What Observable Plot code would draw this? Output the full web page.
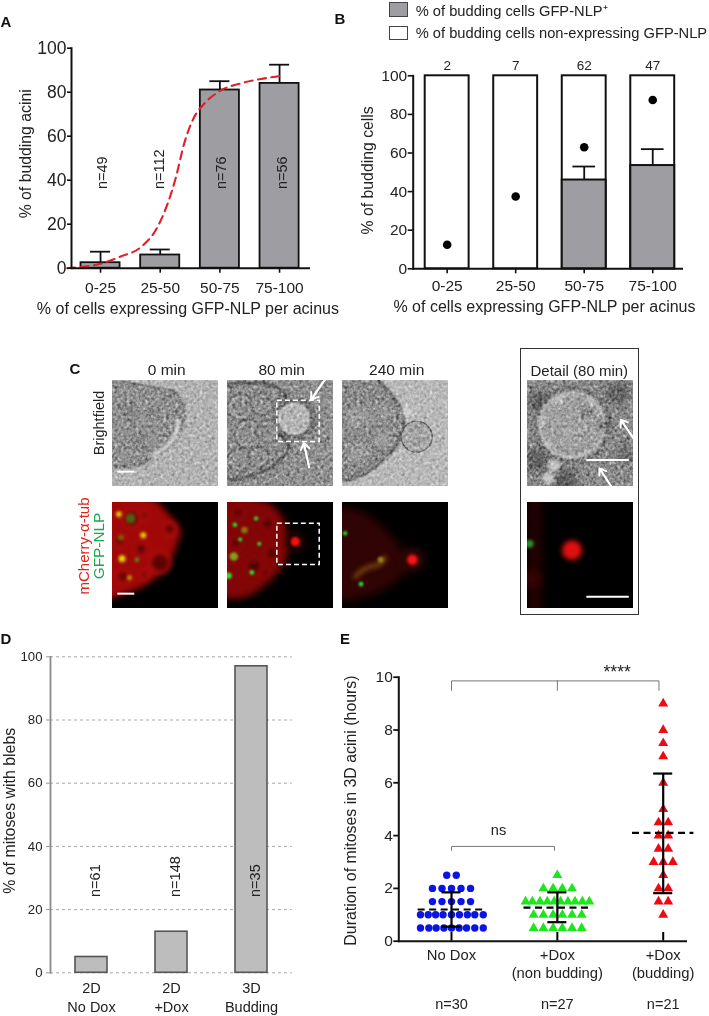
<!DOCTYPE html>
<html><head><meta charset="utf-8">
<script src="https://cdn.jsdelivr.net/npm/d3@7"></script>
<script src="https://cdn.jsdelivr.net/npm/@observablehq/plot@0.6"></script>
<style>
html,body{margin:0;padding:0;background:#fff}
#page{position:relative;width:709px;height:1016px;overflow:hidden;font-family:"Liberation Sans",Arial,sans-serif;color:#222}
#page>svg{position:absolute}
.t{position:absolute;white-space:nowrap;transform:translate(-50%,-50%)}
.sw{position:absolute;box-sizing:border-box;border:1.5px solid #444}
</style></head><body>
<svg width="0" height="0" style="position:absolute"><filter id="grain" x="0" y="0" width="100%" height="100%" color-interpolation-filters="sRGB"><feTurbulence type="fractalNoise" baseFrequency="0.33" numOctaves="2" seed="7" result="n"/><feColorMatrix in="n" type="matrix" values="0.42 0.42 0.42 0 -0.13 0.42 0.42 0.42 0 -0.13 0.42 0.42 0.42 0 -0.13 0 0 0 0 1" result="g"/><feBlend in="g" in2="SourceGraphic" mode="overlay"/></filter></svg>
<div id="page"></div>
<script>
const page = document.getElementById("page");
const FONT = '"Liberation Sans", Arial, sans-serif';
const INK = "#222";

// ---------- Panel A ----------
const binLabels = ["0-25","25-50","50-75","75-100"];
const binStart = [0,25,50,75];
const binEnd = [25,50,75,100];
const binCenter = [12.5,37.5,62.5,87.5];
const aBudding = [2.5,6,81,84];
const aUpper = [7.5,8.5,85,92.5];
const aN = ["n=49","n=112","n=76","n=56"];
const aNDx = [0.7,-0.4,0.75,1.1];
const aCurveX = [-1.5,6,12.5,20.9,29.3,36.3,40.5,44,47.5,51.7,55.9,62.9,71.3,79.7,87.4];
const aCurveY = [0,0.8,2,5.3,9.5,18.6,29,41,56.5,68.6,74.7,80.8,84,86,87.3];

// ---------- Panel B ----------
const bPositive = [0,0,46,53.5];
const bUpper = [null,null,53,62];
const bExpected = [12.5,37.5,63,87.5];
const bCounts = ["2","7","62","47"];

// ---------- Panel D ----------
const dCats = ["2D\nNo Dox","2D\n+Dox","3D\nBudding"];
const dValues = [5,13,97];
const dN = ["n=61","n=148","n=35"];

// ---------- Panel E ----------
const eCatPos = [0,1,2];
const eCats = ["No Dox","+Dox\n(non budding)","+Dox\n(budding)"];
const eN = ["n=30","n=27","n=21"];
const eMean = [1.2,1.27,4.1];
const eSdLow = [0.55,0.72,1.82];
const eSdHigh = [1.85,1.85,6.35];
const noDoxHours = [0.5,0.5,0.5,0.5,0.5,0.5,0.5,0.5,0.5,1,1,1,1,1,1,1,1,1,1.5,1.5,1.5,1.5,1.5,2,2,2,2,2,2.5,2.5];
const noDoxOffset = [-.293,-.214,-.145,-.072,0,.072,.142,.22,.3,-.293,-.22,-.15,-.08,0,.075,.15,.22,.3,-.18,-.09,0,.09,.18,-.18,-.09,0,.09,.18,-.045,.045];
const budlessHours = [0.5,0.5,0.5,0.5,0.5,0.5,1,1,1,1,1,1,1.5,1.5,1.5,1.5,1.5,1.5,1.5,1.5,1.5,1.5,2,2,2,2,2.5];
const budlessOffset = [-.224,-.132,-.04,.047,.139,.23,-.224,-.132,-.04,.047,.139,.23,-.3,-.236,-.164,-.095,-.03,.03,.1,.167,.236,.302,-.132,-.04,.047,.139,0];
const buddingHours = [1,1.5,1.5,2,2,2.5,3,3,3,3.5,3.5,4,4,4.5,4.5,5,6,7,7.5,8,9];
const buddingOffset = [0,-.044,.047,-.044,.047,0,-.091,0,.091,-.044,.047,-.044,.047,-.044,.047,0,0,0,0,0,0];
const bracketTopX = [0,0,1.96,1.96];
const bracketTopY = [9.5,9.86,9.86,9.5];
const bracketMidX = [1,1];
const bracketMidY = [9.5,9.86];
const bracketNsX = [0,0,.973,.973];
const bracketNsY = [3.44,3.59,3.59,3.44];

// ---------- Panel C: picture content (x, y in % of the picture; r in px) ----------
const outline0 = [[-5,3],[25,4],[45,8],[58,10],[66,20],[68,28],[66,42],[60,55],[48,67],[38,72],[32,78],[22,80],[12,82],[-5,78]];
const rings0 = [[15,30,13],[40,30,10],[25,58,13],[50,46,8],[8,62,7],[33,13,6]];
const shine0 = [[62,38],[59,52],[48,65],[38,70]];
const outline80 = [[-5,8],[20,2],[40,4],[55,14],[52,30],[50,50],[58,62],[50,75],[35,85],[15,92],[-5,90]];
const rings80 = [[12,25,11],[32,22,9],[20,50,12],[38,48,9],[10,75,9],[30,72,8],[42,12,5]];
const outline240 = [[-5,-3],[30,-3],[45,12],[57,30],[58,40],[52,60],[38,75],[15,91],[-5,92]];
const rings240 = [[15,35,12],[38,30,8],[38,55,9],[15,68,10]];
const budTexture240 = [[64,48,1.8],[72,46,1.8],[76,56,1.8],[68,60,1.8],[73,52,1.4]];
const fluoOutline0 = [[-5,-3],[38,-3],[52,10],[64,26],[60,42],[51,61],[29,79],[12,86],[0,90],[-5,90]];
const fluoHoles0 = [[45,57,10],[54,25,6],[18,15,8],[27,44,6],[7,36,5],[30,12,4],[30,68,4],[10,70,6]];
const fluoSpots0 = [[6,11,2.8,"#e8d000"],[29,31,3,"#f0d000"],[9,53,3.4,"#e8e000"],[16,71,2.4,"#c0a800"],[23,54,2.2,"#50a020"],[17,15,5,"#506010"],[8,33,3,"#806000"]];
const fluoOutline80 = [[-5,-3],[30,-3],[48,8],[58,36],[55,55],[42,72],[18,89],[-5,88]];
const fluoHoles80 = [[38,20,6],[42,48,6],[10,10,5],[25,60,7],[35,66,4],[8,38,5]];
const fluoSpots80 = [[7,21,2.2,"#30e030"],[27,15,2.2,"#30d030"],[12,35,2,"#30e030"],[30,39,2,"#30e030"],[6,51,4.2,"#80a018"],[23,66,2.4,"#30e030"],[1,69,3.2,"#30e030"],[16,26,3.4,"#907008"]];
const budHalo80 = [[64,37,10,"#260303"]];
const budCore80 = [[64,37,4.6,"#f01010"]];
const fluoOutline240 = [[-5,6],[20,10],[40,25],[55,42],[62,60],[50,75],[25,88],[-5,90]];
const fluoStreak240 = [[12,70],[22,62],[35,58],[40,52]];
const fluoSpots240 = [[17.5,77,2.4,"#30e030"],[2.5,29,2.2,"#30d030"],[36,54,3,"#908018"]];
const budHalo240 = [[66,54,12,"#300505"]];
const budCore240 = [[66,54,5.2,"#f81414"]];
const detailBlotches = [[12,20,11],[8,75,12],[35,95,13],[85,12,11],[72,42,6],[55,30,5],[92,70,8]];
const detailGlints = [[30,18,4],[15,38,3],[20,60,3],[60,20,3],[38,48,2.5],[25,80,6],[20,92,6]];
const detailHalo = [[4,72,9,"#3a0303"],[2,20,8,"#1c0202"]];
const detailCore = [[42,45,10,"#e01010"]];
const detailGreen = [[2,39,4,"#289028"]];
const detailStripe = [[7,-5],[7,105]];

// ---------- helpers ----------
function add(svg, left, top){ svg.style.left = left+"px"; svg.style.top = top+"px"; page.appendChild(svg); return svg; }
function label(text, x, y, o={}){
  const d = document.createElement("div"); d.className="t"; d.textContent=text;
  d.style.left=x+"px"; d.style.top=y+"px";
  d.style.fontSize=(o.size||15)+"px";
  if(o.weight) d.style.fontWeight=o.weight;
  if(o.color) d.style.color=o.color;
  if(o.rotate) d.style.transform=`translate(-50%,-50%) rotate(${o.rotate}deg)`;
  page.appendChild(d);
}
const baseStyle = {fontFamily:FONT, background:"transparent", overflow:"visible"};

// ---------- A ----------
const aRows = binLabels.map((b,i)=>({b,x1:binStart[i],x2:binEnd[i],c:binCenter[i],v:aBudding[i],u:aUpper[i],n:aN[i],dx:aNDx[i]}));
const aCurve = aCurveX.map((x,i)=>({x,y:aCurveY[i]}));
add(Plot.plot({
  width:345,height:330,marginLeft:71,marginRight:35,marginTop:47.7,marginBottom:62.3,
  style:baseStyle,
  x:{domain:[0,100],range:[70.2,308.9]},
  y:{domain:[0,100]},
  marks:[
    Plot.ruleX(aRows,{x:"c",y1:"v",y2:"u",stroke:"#111",strokeWidth:1.8}),
    Plot.ruleY(aRows,{x1:d=>d.c-4.2,x2:d=>d.c+4.2,y:"u",stroke:"#111",strokeWidth:1.8}),
    Plot.rectY(aRows,{x1:"x1",x2:"x2",y1:0,y2:"v",insetLeft:10.3,insetRight:10.3,fill:"#9d9da2",stroke:"#111",strokeWidth:1.8}),
    Plot.text(aRows,{x:d=>d.c+d.dx,y:36,text:"n",rotate:-90,textAnchor:"start",fontSize:14.5,fill:INK}),
    Plot.line(aCurve,{x:"x",y:"y",curve:"monotone-x",stroke:"#e11f26",strokeWidth:2.1,strokeDasharray:"8,5.5"}),
    Plot.frame({anchor:"left",stroke:"#111",strokeWidth:2}),
    Plot.ruleY([0],{stroke:"#111",strokeWidth:2}),
    Plot.axisY({ticks:[0,20,40,60,80,100],label:null,tickSize:4,tickPadding:1,fontSize:17.5,color:INK,stroke:"#111",strokeWidth:1.6}),
    Plot.axisX({ticks:binCenter,tickFormat:(d,i)=>binLabels[i],label:null,tickSize:5,tickPadding:8.5,fontSize:15.5,color:INK,stroke:"#111",strokeWidth:1.6}),
    Plot.text(["% of budding acini"],{x:-18.6,y:52,rotate:-90,fontSize:15.8,fill:INK}),
    Plot.text(["% of cells expressing GFP-NLP per acinus"],{x:49.1,y:-18.3,fontSize:16,fill:INK})
  ]
}),0,0);

// ---------- B ----------
const bRows = binLabels.map((b,i)=>({x1:binStart[i],x2:binEnd[i],c:binCenter[i],v:bPositive[i],u:bUpper[i],e:bExpected[i],n:bCounts[i]}));
const bErr = bRows.filter(d=>d.u!=null);
add(Plot.plot({
  width:364,height:288,marginLeft:67.7,marginRight:26,marginTop:33.3,marginBottom:61.7,
  style:baseStyle,
  x:{domain:[0,100],range:[67.4,341.5]},
  y:{domain:[0,100]},
  marks:[
    Plot.rectY(bRows,{x1:"x1",x2:"x2",y1:0,y2:100,insetLeft:12.3,insetRight:12.3,fill:"#fff",stroke:"#111",strokeWidth:2}),
    Plot.rectY(bRows.filter(d=>d.v>0),{x1:"x1",x2:"x2",y1:0,y2:"v",insetLeft:12.3,insetRight:12.3,fill:"#9d9da2",stroke:"#111",strokeWidth:2}),
    Plot.ruleX(bErr,{x:"c",y1:"v",y2:"u",stroke:"#111",strokeWidth:1.8}),
    Plot.ruleY(bErr,{x1:d=>d.c-4.14,x2:d=>d.c+4.14,y:"u",stroke:"#111",strokeWidth:1.8}),
    Plot.dot(bRows,{x:"c",y:"e",r:4.3,fill:"#000"}),
    Plot.text(bRows,{x:"c",y:105.3,text:"n",fontSize:13.5,fill:INK}),
    Plot.frame({anchor:"left",stroke:"#111",strokeWidth:2}),
    Plot.ruleY([0],{stroke:"#111",strokeWidth:2}),
    Plot.axisY({ticks:[0,20,40,60,80,100],label:null,tickSize:5,tickPadding:1,fontSize:15.5,color:INK,stroke:"#111",strokeWidth:1.6}),
    Plot.axisX({ticks:binCenter,tickFormat:(d,i)=>binLabels[i],label:null,tickSize:5,tickPadding:6,fontSize:15.5,color:INK,stroke:"#111",strokeWidth:1.6}),
    Plot.text(["% of budding cells"],{x:-16.3,y:51,rotate:-90,fontSize:15.8,fill:INK}),
    Plot.text(["% of cells expressing GFP-NLP per acinus"],{x:48,y:-19.5,fontSize:16,fill:INK})
  ]
}),345,42);

// legend of B
for (const [top,bg,txt,ty] of [[2,"#9d9da2","% of budding cells GFP-NLP⁺",10],[25.7,"#fff","% of budding cells non-expressing GFP-NLP",33]]) {
  const s=document.createElement("div"); s.className="sw";
  s.style.cssText=`left:389.3px;top:${top}px;width:19px;height:14.7px;background:${bg}`;
  page.appendChild(s);
  const t=document.createElement("div"); t.className="t"; t.textContent=txt;
  t.style.cssText=`left:415.7px;top:${ty}px;font-size:14.7px;transform:translateY(-50%)`;
  page.appendChild(t);
}

// ---------- C ----------
const PIC = 106;
const xy = {x:d=>d[0],y:d=>d[1]};
function pic(left, top, bg, grain, marks){
  const svg = Plot.plot({
    width:PIC,height:PIC,margin:0,
    style:{background:bg,fontFamily:FONT,filter:grain?"url(#grain)":"none",isolation:"isolate"},
    x:{domain:[0,100],axis:null},y:{domain:[0,100],reverse:true,axis:null},
    r:{type:"identity"},color:{type:"identity"},
    marks
  });
  return add(svg,left,top);
}
const poly = (pts,o)=>Plot.line(pts,{...xy,curve:"catmull-rom-closed",...o});
const open = (pts,o)=>Plot.line(pts,{...xy,curve:"catmull-rom",...o});
const rings = (pts,o)=>Plot.dot(pts,{...xy,r:d=>d[2],...o});
const glow = (pts,blur,o={})=>Plot.dot(pts,{...xy,r:d=>d[2],fill:d=>d[3],stroke:"none",imageFilter:`blur(${blur}px)`,mixBlendMode:"screen",...o});
const bar = (x1,x2,y)=>Plot.ruleY([y],{x1,x2,stroke:"#fff",strokeWidth:2});
const dashBox = (x1,x2,y1,y2)=>Plot.rect([0],{x1,x2,y1,y2,fill:"none",stroke:"#fff",strokeWidth:1.5,strokeDasharray:"5,3"});
const whiteArrow = (x1,y1,x2,y2)=>[6.5,3.5].map(h=>Plot.arrow([0],{x1,y1,x2,y2,stroke:"#fff",strokeWidth:1.8,headLength:h,headAngle:70,bend:0}));

// top row
pic(112.3,380,"#b2b2b2",true,[
  poly(outline0,{fill:"#8f8f8f",stroke:"#666",strokeWidth:1.6,imageFilter:"blur(1.2px)"}),
  rings(rings0,{fill:"#878787",stroke:"#a2a2a2",strokeWidth:1.6,imageFilter:"blur(2px)"}),
  open(shine0,{stroke:"#d8d8d8",strokeWidth:4,imageFilter:"blur(1.8px)"}),
  bar(5,21,86)
]);
pic(227.3,380,"#8f8f8f",true,[
  poly(outline80,{fill:"#8d8d8d",stroke:"#444",strokeWidth:2.2,imageFilter:"blur(1.2px)"}),
  rings(rings80,{fill:"none",stroke:"#b8b8b8",strokeWidth:1.6,imageFilter:"blur(1.2px)"}),
  rings(rings80,{r:d=>d[2]+2,fill:"none",stroke:"#5c5c5c",strokeWidth:1.3,imageFilter:"blur(1.2px)"}),
  rings([[64,36,20]],{fill:"#5c5c5c",imageFilter:"blur(3px)"}),
  rings([[63,36,15.5]],{fill:"#b4b4b4",stroke:"#d8d8d8",strokeWidth:1.5,imageFilter:"blur(1px)"}),
  dashBox(47,87,19,58),
  whiteArrow(92,-1,79,18),
  whiteArrow(77,82,72,59)
]);
pic(342.3,380,"#b8b8b8",true,[
  poly(outline240,{fill:"#8a8a8a",stroke:"#505050",strokeWidth:2,imageFilter:"blur(1.2px)"}),
  rings(rings240,{fill:"#9c9c9c",stroke:"none",imageFilter:"blur(3.5px)"}),
  rings([[60,30,4]],{fill:"#e4e4e4",imageFilter:"blur(2px)"}),
  rings([[70,53,15.5]],{fill:"#a8a8a8",stroke:"#6c6c6c",strokeWidth:1.3,imageFilter:"blur(.6px)"}),
  rings(budTexture240,{fill:"#808080",imageFilter:"blur(.8px)"})
]);
// bottom row
pic(112.3,502,"#000",false,[
  poly(fluoOutline0,{fill:"#a00808",stroke:"none",imageFilter:"blur(3px)"}),
  rings(fluoHoles0,{fill:"#5a0202",stroke:"#d81414",strokeWidth:1.8,imageFilter:"blur(2.4px)"}),
  glow(fluoSpots0,1.4),
  bar(5,21,86)
]);
pic(227.3,502,"#000",false,[
  poly(fluoOutline80,{fill:"#820606",stroke:"none",imageFilter:"blur(3.5px)"}),
  rings(fluoHoles80,{fill:"#4a0202",stroke:"#b00a0a",strokeWidth:1.8,imageFilter:"blur(2.4px)"}),
  glow(fluoSpots80,.9),
  glow(budHalo80,3),
  glow(budCore80,1.3),
  dashBox(47,87,20,59)
]);
pic(342.3,502,"#000",false,[
  poly(fluoOutline240,{fill:"#300404",stroke:"none",imageFilter:"blur(4px)"}),
  open(fluoStreak240,{stroke:"#804c0c",strokeWidth:4,imageFilter:"blur(2.5px)",mixBlendMode:"screen"}),
  glow(fluoSpots240,1),
  glow(budHalo240,3),
  glow(budCore240,1.5)
]);
// detail
pic(527,380,"#8a8a8a",true,[
  rings(detailBlotches,{fill:"#5e5e5e",imageFilter:"blur(4px)"}),
  rings([[42,42,36]],{fill:"#525252",imageFilter:"blur(3px)"}),
  rings([[42,42,33]],{fill:"#a0a0a0",stroke:"#d0d0d0",strokeWidth:2.4,imageFilter:"blur(1.4px)"}),
  rings(detailGlints,{fill:"#c4c4c4",imageFilter:"blur(1.8px)"}),
  rings(detailBlotches.slice(4,6),{fill:"#747474",imageFilter:"blur(3px)"}),
  bar(56,96,75),
  whiteArrow(101,56,88,37),
  whiteArrow(79,100,68,83)
]);
pic(527,502,"#000",false,[
  open(detailStripe,{stroke:"#240202",strokeWidth:14,imageFilter:"blur(4px)"}),
  glow(detailHalo,4),
  glow(detailCore,2.4),
  glow(detailGreen,1.6),
  bar(56,96,89)
]);
const box = document.createElement("div");
box.style.cssText="position:absolute;left:520px;top:348px;width:119px;height:267px;box-sizing:border-box;border:1.5px solid #333";
page.appendChild(box);
label("0 min",166.7,370,{size:15.5});
label("80 min",281.7,370,{size:15.5});
label("240 min",396.7,370,{size:15.5});
label("Detail (80 min)",579.3,370,{size:15});
label("Brightfield",99,423,{size:14.5,rotate:-90});
label("mCherry-α-tub",82.7,546,{size:15,rotate:-90,color:"#e2231a"});
label("GFP-NLP",99,546,{size:15.3,rotate:-90,color:"#1aa84c"});

// ---------- D ----------
const dRows = dCats.map((c,i)=>({c,v:dValues[i],n:dN[i]}));
add(Plot.plot({
  width:300,height:376,marginLeft:50,marginRight:8.3,marginTop:16.3,marginBottom:43.7,
  style:baseStyle,
  x:{type:"band",domain:dCats,range:[49.75,291.25],paddingInner:0.6,paddingOuter:0.3},
  y:{domain:[0,100]},
  marks:[
    Plot.ruleY([0,20,40,60,80,100],{stroke:"#a8a8a8",strokeDasharray:"3,3",strokeWidth:1}),
    Plot.barY(dRows,{x:"c",y:"v",fill:"#bdbdbd",stroke:"#555",strokeWidth:1.6}),
    Plot.text(dRows,{x:"c",y:24,text:"n",dx:4,rotate:-90,textAnchor:"start",fontSize:14.5,fill:INK}),
    Plot.frame({anchor:"left",stroke:"#8a8a8a",strokeWidth:1.8}),
    Plot.axisY({ticks:[0,20,40,60,80,100],label:null,tickSize:4,tickPadding:4,fontSize:13.2,color:INK,stroke:"#999",strokeWidth:1}),
    Plot.axisX({label:null,tickSize:0,tickPadding:7.5,fontSize:14.5,lineHeight:1.28,color:INK}),
    Plot.text(["% of mitoses with blebs"],{frameAnchor:"left",dx:-41,dy:-4,rotate:-90,textAnchor:"middle",fontSize:15.9,fill:INK})
  ]
}),0,640);

// ---------- E ----------
const toPts = (pos,hours,off)=>hours.map((h,i)=>({x:pos+off[i],y:h}));
const eRows = eCats.map((c,i)=>({p:eCatPos[i],m:eMean[i],lo:eSdLow[i],hi:eSdHigh[i],n:eN[i]}));
const pts = (xs,ys)=>xs.map((x,i)=>({x,y:ys[i]}));
add(Plot.plot({
  width:369,height:371,marginLeft:58.3,marginRight:22,marginTop:31.7,marginBottom:75.3,
  style:baseStyle,
  x:{domain:[0,2],range:[111,322.7]},
  y:{domain:[0,10]},
  marks:[
    Plot.line(pts(bracketTopX,bracketTopY),{x:"x",y:"y",stroke:"#777",strokeWidth:1}),
    Plot.line(pts(bracketMidX,bracketMidY),{x:"x",y:"y",stroke:"#777",strokeWidth:1}),
    Plot.line(pts(bracketNsX,bracketNsY),{x:"x",y:"y",stroke:"#777",strokeWidth:1}),
    Plot.text(["****"],{x:1.565,y:10.2,fontSize:17.5,fill:INK}),
    Plot.text(["ns"],{x:.444,y:4.19,fontSize:14.5,fill:INK}),
    Plot.dot(toPts(0,noDoxHours,noDoxOffset),{x:"x",y:"y",r:3.7,fill:"#0a14e6"}),
    Plot.dot(toPts(1,budlessHours,budlessOffset),{x:"x",y:"y",r:3.7,symbol:"triangle",fill:"#1de61d"}),
    Plot.dot(toPts(2,buddingHours,buddingOffset),{x:"x",y:"y",r:3.7,symbol:"triangle",fill:"#ee0a14"}),
    Plot.ruleX(eRows,{x:"p",y1:"lo",y2:"hi",stroke:"#000",strokeWidth:2.2}),
    Plot.ruleY(eRows,{x1:d=>d.p-.09,x2:d=>d.p+.09,y:"lo",stroke:"#000",strokeWidth:2.2}),
    Plot.ruleY(eRows,{x1:d=>d.p-.09,x2:d=>d.p+.09,y:"hi",stroke:"#000",strokeWidth:2.2}),
    Plot.ruleY(eRows,{x1:d=>d.p-(d.p===2?.29:.315),x2:d=>d.p+(d.p===2?.29:.315),y:"m",stroke:"#000",strokeWidth:2.2,strokeDasharray:"7,4.5"}),
    Plot.ruleX(eRows,{x:"p",y1:0,y2:.33,stroke:"#000",strokeWidth:2}),
    Plot.frame({anchor:"left",stroke:"#111",strokeWidth:2}),
    Plot.ruleY([0],{stroke:"#111",strokeWidth:2}),
    Plot.axisY({ticks:[0,2,4,6,8,10],label:null,tickSize:5,tickPadding:1,fontSize:15.5,color:INK,stroke:"#111",strokeWidth:1.8}),
    Plot.axisX({ticks:eCatPos,tickFormat:(d,i)=>eCats[i],label:null,tickSize:0,tickPadding:6,fontSize:14.8,lineHeight:1.22,color:INK}),
    Plot.text(eRows,{x:"p",y:-2.4,text:"n",fontSize:14.5,fill:INK}),
    Plot.text(["Duration of mitoses in 3D acini (hours)"],{x:-.9475,y:4.95,rotate:-90,fontSize:15.9,fill:INK})
  ]
}),340,645);

// panel letters
label("A",6,21,{size:15,weight:"bold",color:"#111"});
label("B",340,18,{size:15,weight:"bold",color:"#111"});
label("C",75,368,{size:15,weight:"bold",color:"#111"});
label("D",6,638,{size:15,weight:"bold",color:"#111"});
label("E",345,638,{size:15,weight:"bold",color:"#111"});
</script>
</body></html>
